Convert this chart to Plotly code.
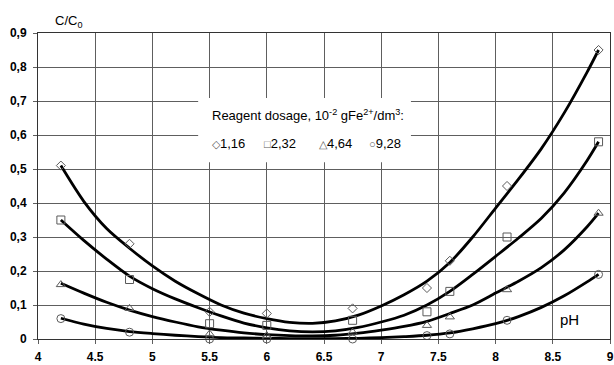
import plotly.graph_objects as go

# Measured residual concentration ratio C/C0 versus pH for four reagent dosages
ph_points = [4.2, 4.8, 5.5, 6.0, 6.75, 7.4, 7.6, 8.1, 8.9]
c_116 = [0.51, 0.28, 0.08, 0.075, 0.09, 0.15, 0.23, 0.45, 0.85]
c_232 = [0.35, 0.175, 0.045, 0.04, 0.055, 0.08, 0.14, 0.30, 0.58]
c_464 = [0.16, 0.09, 0.015, 0.01, 0.02, 0.04, 0.065, 0.145, 0.37]
c_928 = [0.06, 0.02, 0.0, 0.0, 0.0, 0.01, 0.015, 0.055, 0.19]

# Smoothed trend curves for each dosage, sampled along pH
curve_ph = [4.2, 4.4, 4.6, 4.8, 5.0, 5.2, 5.4, 5.6, 5.8, 6.0, 6.2, 6.4, 6.6,
            6.8, 7.0, 7.2, 7.4, 7.6, 7.8, 8.0, 8.2, 8.4, 8.6, 8.8, 8.9]
curve_116 = [0.51, 0.405, 0.325, 0.267, 0.215, 0.170, 0.133, 0.100, 0.076, 0.060, 0.049, 0.046, 0.053,
             0.070, 0.097, 0.130, 0.170, 0.225, 0.300, 0.385, 0.470, 0.560, 0.665, 0.785, 0.850]
curve_232 = [0.35, 0.29, 0.235, 0.185, 0.148, 0.118, 0.092, 0.068, 0.047, 0.033, 0.024, 0.021, 0.024,
             0.034, 0.050, 0.070, 0.100, 0.140, 0.190, 0.243, 0.297, 0.355, 0.430, 0.525, 0.580]
curve_464 = [0.164, 0.135, 0.108, 0.085, 0.066, 0.050, 0.036, 0.026, 0.018, 0.013, 0.010, 0.009, 0.011,
             0.017, 0.026, 0.037, 0.052, 0.075, 0.100, 0.135, 0.170, 0.210, 0.262, 0.330, 0.370]
curve_928 = [0.061, 0.044, 0.031, 0.022, 0.016, 0.011, 0.007, 0.004, 0.003, 0.002, 0.001, 0.001, 0.001,
             0.002, 0.004, 0.007, 0.011, 0.018, 0.030, 0.045, 0.066, 0.093, 0.127, 0.168, 0.190]

dosage_labels = ["1,16", "2,32", "4,64", "9,28"]
symbol_chars = ["◇", "□", "△", "○"]
x_ticks = [4, 4.5, 5, 5.5, 6, 6.5, 7, 7.5, 8, 8.5, 9]
x_tick_text = ["4", "4.5", "5", "5.5", "6", "6.5", "7", "7.5", "8", "8.5", "9"]
y_ticks = [0, 0.1, 0.2, 0.3, 0.4, 0.5, 0.6, 0.7, 0.8, 0.9]
y_tick_text = ["0", "0,1", "0,2", "0,3", "0,4", "0,5", "0,6", "0,7", "0,8", "0,9"]

FONT = "Liberation Sans, Arial, sans-serif"
MARK = "#5a5a5a"
GRID = "#5e5e5e"

fig = go.Figure()

for ys in [curve_116, curve_232, curve_464, curve_928]:
    fig.add_trace(go.Scatter(x=curve_ph, y=ys, mode="lines",
                             line=dict(color="black", width=2.8, shape="spline", smoothing=0.8),
                             hoverinfo="skip", showlegend=False))

series = [(c_116, "diamond-open", 7), (c_232, "square-open", 8),
          (c_464, "triangle-up-open", 8), (c_928, "circle-open", 8)]
for ys, sym, size in series:
    fig.add_trace(go.Scatter(x=ph_points, y=ys, mode="markers",
                             marker=dict(symbol=sym, size=size, color=MARK,
                                         line=dict(color=MARK, width=1)),
                             showlegend=False, cliponaxis=False))

# White panel for the dosage key
fig.add_shape(type="rect", xref="x", yref="y", x0=5.4, x1=7.26, y0=0.52, y1=0.709,
              fillcolor="white", line=dict(width=0), layer="between")

fig.add_annotation(x=5.5, y=0.659, xref="x", yref="y", xanchor="left", yanchor="middle",
                   text="Reagent dosage, 10<sup>-2</sup> gFe<sup>2+</sup>/dm<sup>3</sup>:",
                   showarrow=False, font=dict(family=FONT, size=13, color="black"))

key_x = [5.5, 5.96, 6.44, 6.88]
for xk, ch, lab in zip(key_x, symbol_chars, dosage_labels):
    fig.add_annotation(x=xk, y=0.576, xref="x", yref="y", xanchor="left", yanchor="middle",
                       text=f"<span style='font-size:11px;color:{MARK}'>{ch}</span>{lab}",
                       showarrow=False, font=dict(family=FONT, size=13, color="black"))

fig.add_annotation(x=0.026, y=1.036, xref="paper", yref="paper", xanchor="left", yanchor="middle",
                   text="C/C<sub>0</sub>", showarrow=False,
                   font=dict(family=FONT, size=13, color="black"))
fig.add_annotation(x=8.65, y=0.056, xref="x", yref="y", xanchor="center", yanchor="middle",
                   text="pH", showarrow=False, font=dict(family=FONT, size=15, color="black"))

axis_common = dict(showgrid=True, gridcolor=GRID, gridwidth=1, zeroline=False,
                   showline=True, linecolor="#333", linewidth=1, mirror=True,
                   ticks="outside", ticklen=4, tickcolor=GRID, automargin=False,
                   tickfont=dict(family=FONT, size=12, color="black", weight="bold"))

fig.update_xaxes(range=[4, 9], tickvals=x_ticks, ticktext=x_tick_text,
                 ticklabelstandoff=3, **axis_common)
fig.update_yaxes(range=[0, 0.9], tickvals=y_ticks, ticktext=y_tick_text,
                 ticklabelstandoff=4, **axis_common)

fig.update_layout(width=614, height=365, margin=dict(l=38, r=4, t=33, b=26),
                  plot_bgcolor="white", paper_bgcolor="white", showlegend=False)

fig.write_html("out.html")
